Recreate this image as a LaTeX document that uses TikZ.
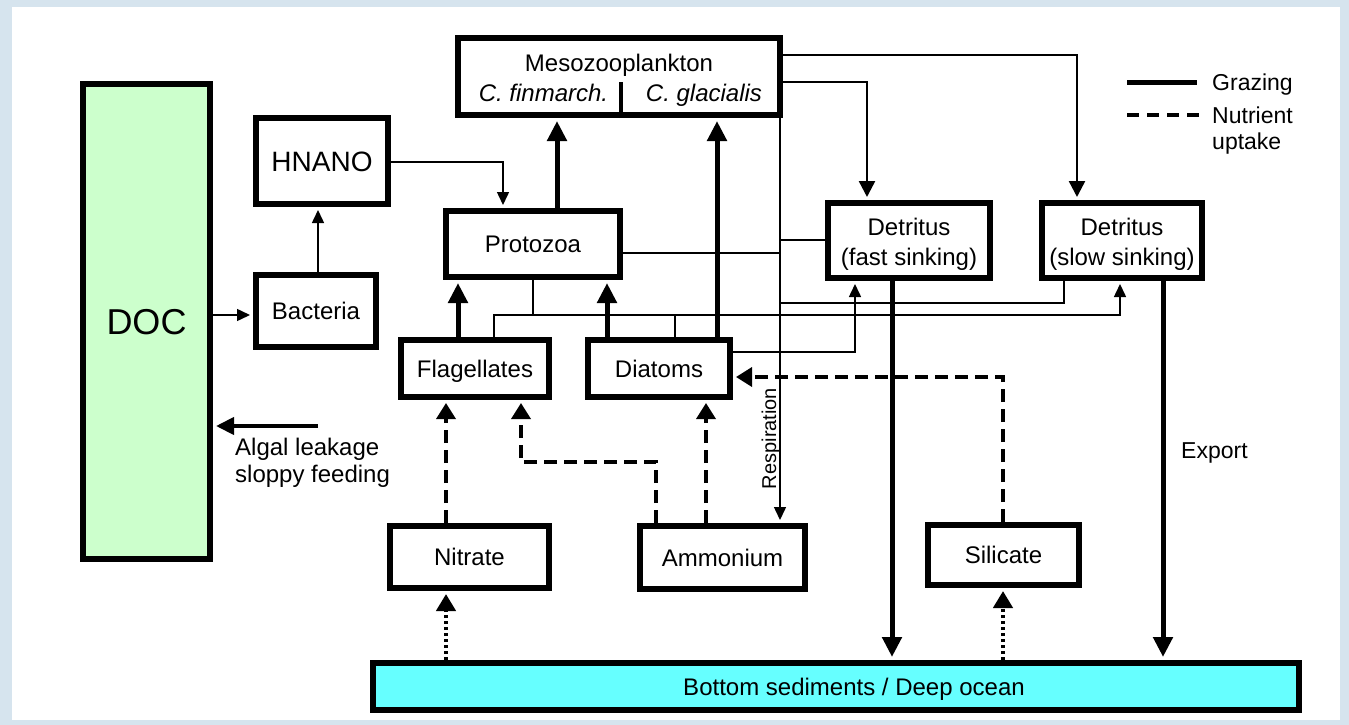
\documentclass[tikz,border=0pt]{standalone}
\usepackage{fontspec}
\setmainfont{Liberation Sans}
\usetikzlibrary{arrows.meta}
\definecolor{docgreen}{RGB}{204,255,204}
\definecolor{sedcyan}{RGB}{102,255,255}
\definecolor{bgblue}{RGB}{214,228,238}
\begin{document}
\begin{tikzpicture}[x=1pt,y=-1pt,
  box/.style={draw, line width=6pt, inner sep=0pt, fill=white, font=\fontsize{24}{30}\selectfont, text height=17.2pt, text depth=0pt},
  graze/.style={line width=5pt, -{Triangle[width=19pt,length=20pt]}, shorten >=3pt},
  mid/.style={line width=2.5pt, -{Triangle[width=16pt,length=16pt]}, shorten >=3pt},
  thinline/.style={line width=1.5pt},
  thinarrow/.style={line width=1.5pt, -{Triangle[width=12pt,length=13pt]}, shorten >=3pt},
  nutri/.style={line width=3.5pt, dash pattern=on 13pt off 7pt, -{Triangle[width=19pt,length=16pt]}, shorten >=3pt},
  dotarrow/.style={line width=4.5pt, dash pattern=on 3pt off 3pt, -{Triangle[width=19pt,length=17pt]}, shorten >=3pt},
  lbl/.style={font=\fontsize{24}{30}\selectfont, inner sep=0pt},
  leg/.style={font=\fontsize{23}{28}\selectfont, inner sep=0pt, anchor=base west}
]
\useasboundingbox (0,0) rectangle (1349,725);
\fill[bgblue] (0,0) rectangle (1349,725);
\fill[white] (12,7) rectangle (1340,720);

% boxes
\node[box, minimum width=322pt, minimum height=77pt] (meso) at (619,76.5) {};
\node[box, minimum width=127pt, minimum height=475pt, fill=docgreen, font=\fontsize{36}{40}\selectfont, text height=25.8pt] (doc) at (146.5,321.5) {DOC};
\node[box, minimum width=132pt, minimum height=86pt, font=\fontsize{28}{32}\selectfont, text height=20pt] (hnano) at (322,161) {HNANO};
\node[box, minimum width=120pt, minimum height=72pt] (bact) at (316,311) {Bacteria};
\node[box, minimum width=174pt, minimum height=66pt] (proto) at (533,244) {Protozoa};
\node[box, minimum width=148pt, minimum height=57pt] (flag) at (475,368.5) {Flagellates};
\node[box, minimum width=142pt, minimum height=57pt] (diat) at (659,368.5) {Diatoms};
\node[box, minimum width=162pt, minimum height=75pt] (detf) at (909,240.5) {};
\node[box, minimum width=160pt, minimum height=75pt] (dets) at (1122,240.5) {};
\node[box, minimum width=159pt, minimum height=62pt] (nitr) at (469.5,557) {Nitrate};
\node[box, minimum width=165pt, minimum height=63pt] (ammo) at (722.5,557.5) {Ammonium};
\node[box, minimum width=151pt, minimum height=60pt] (sili) at (1003.5,555) {Silicate};
\node[box, minimum width=926pt, minimum height=47pt, fill=sedcyan] (bottom) at (836,686.5) {};
\node[lbl, anchor=base] (tbot) at (854,695) {Bottom sediments / Deep ocean};

% texts inside multi-line boxes
\node[lbl, anchor=base] (tmeso) at (619,72) {Mesozooplankton};
\node[lbl, anchor=base, font=\fontsize{24}{30}\selectfont\itshape] (tfin) at (543.5,101.5) {C. finmarch.};
\node[lbl, anchor=base, font=\fontsize{24}{30}\selectfont\itshape] (tgla) at (704,101.5) {C. glacialis};
\coordinate (div) at (621,82);
\draw[line width=4pt] (meso.south -| div) -- (div);
\node[lbl, anchor=base] (tdf1) at (909,235) {Detritus};
\node[lbl, anchor=base] (tdf2) at (909,265) {(fast sinking)};
\node[lbl, anchor=base] (tds1) at (1122,235) {Detritus};
\node[lbl, anchor=base] (tds2) at (1122,265) {(slow sinking)};

% grazing arrows
\draw[graze] (flag.north -| 458,0) -- (proto.south -| 458,0);
\draw[graze] (diat.north -| 607,0) -- (proto.south -| 607,0);
\draw[graze] (proto.north -| 557,0) -- (meso.south -| 557,0);
\draw[graze] (diat.north -| 717,0) -- (meso.south -| 717,0);
\draw[graze] (detf.south -| 892,0) -- (bottom.north -| 892,0);
\draw[graze] (dets.south -| 1163,0) -- (bottom.north -| 1163,0);
\draw[mid] (meso.east |- 0,82) -| (detf.north -| 867,0);
\draw[mid] (meso.east |- 0,55) -| (dets.north -| 1077,0);

% thin flows
\draw[thinarrow] (meso.south -| 780,0) -- (ammo.north -| 780,0);
\draw[thinarrow] (hnano.east |- 0,162) -| (proto.north -| 503,0);
\draw[thinarrow] (bact.north -| 318,0) -- (hnano.south -| 318,0);
\draw[thinarrow] (doc.east |- 0,315) -- (bact.west |- 0,315);
\coordinate (j1) at (780,253);
\coordinate (j2) at (780,240);
\coordinate (j3) at (780,303);
\coordinate (j4) at (533,315);
\coordinate (j5) at (494,315);
\coordinate (j6) at (675,315);
\draw[thinline] (proto.east |- j1) -- (j1);
\draw[thinline] (j2) -- (detf.west |- j2);
\draw[thinline] (j3) -| (dets.south -| 1064,0);
\draw[thinline] (proto.south -| j4) -- (j4);
\draw[thinarrow] (flag.north -| j5) -- (j5) -| (dets.south -| 1120,0);
\draw[thinline] (diat.north -| j6) -- (j6);
\draw[thinarrow] (diat.east |- 0,352) -| (detf.south -| 855,0);

% algal leakage
\coordinate (algal) at (318,426);
\draw[line width=4pt, -{Triangle[width=17pt,length=18pt]}, shorten >=3pt] (algal) -- (doc.east |- algal);
\node[lbl, anchor=base west] (talg) at (235,455) {Algal leakage};
\node[lbl, anchor=base west] (tslop) at (235,482) {sloppy feeding};

% nutrient uptake
\coordinate (k1) at (521,462);
\draw[nutri] (nitr.north -| 446,0) -- (flag.south -| 446,0);
\draw[nutri] (ammo.north -| 656,0) |- (k1) -- (flag.south -| k1);
\draw[nutri] (ammo.north -| 706,0) -- (diat.south -| 706,0);
\draw[nutri] (sili.north -| 1003,0) |- (diat.east |- 0,377);
\draw[dotarrow] (bottom.north -| 446,0) -- (nitr.south -| 446,0);
\draw[dotarrow] (bottom.north -| 1003,0) -- (sili.south -| 1003,0);

% labels
\node[lbl, anchor=base west, font=\fontsize{23}{28}\selectfont] (texp) at (1181,458) {Export};
\node[lbl, anchor=base, rotate=90, font=\fontsize{20}{24}\selectfont] (tresp) at (776,438.5) {Respiration};

% legend
\coordinate (lg1a) at (1127,82);
\coordinate (lg1b) at (1197,82);
\coordinate (lg2a) at (1127,115);
\coordinate (lg2b) at (1201,115);
\draw[line width=5pt] (lg1a) -- (lg1b);
\draw[line width=3.5pt, dash pattern=on 12pt off 8pt] (lg2a) -- (lg2b);
\node[leg] (tgraz) at (1212,90) {Grazing};
\node[leg] (tnut) at (1212,123) {Nutrient};
\node[leg] (tupt) at (1212,149) {uptake};
\end{tikzpicture}
\end{document}
